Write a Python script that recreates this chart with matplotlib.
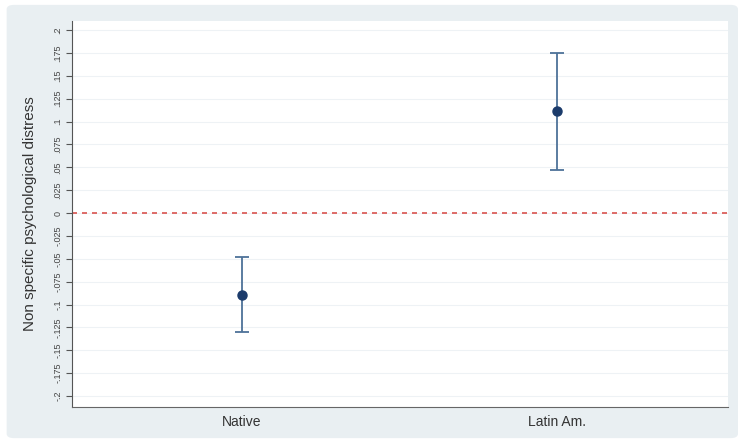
import numpy as np
import matplotlib
matplotlib.use("Agg")
import matplotlib.pyplot as plt
from matplotlib.patches import FancyBboxPatch

plt.rcParams["font.family"] = ["Liberation Sans", "DejaVu Sans"]

groups = ["Native", "Latin Am."]
estimates = [-0.0895, 0.111]
ci_low = [-0.130, 0.047]
ci_high = [-0.048, 0.175]
yticks = np.arange(-0.2, 0.2001, 0.025)
ytick_labels = ["-.2", "-.175", "-.15", "-.125", "-.1", "-.075", "-.05", "-.025", "0",
                ".025", ".05", ".075", ".1", ".125", ".15", ".175", ".2"]

fig = plt.figure(figsize=(7.38, 4.43), dpi=100, facecolor="white")
fig.patches.append(FancyBboxPatch((0.009, 0.011), 0.991, 0.978,
                                  boxstyle="round,pad=0,rounding_size=0.01",
                                  transform=fig.transFigure, facecolor="#e9eff2",
                                  edgecolor="none", zorder=-5))
ax = fig.add_axes([0.0976, 0.081, 0.889, 0.872])
ax.set_zorder(1)
ax.set_facecolor("white")

x = np.arange(1, len(groups) + 1)
est = np.array(estimates)
err = [est - np.array(ci_low), np.array(ci_high) - est]
ax.errorbar(x, est, yerr=err, fmt="none", ecolor="#4d7299", elinewidth=1.3,
            capsize=5, capthick=1.3, zorder=3)
ax.plot(x, est, "o", color="#1b3b6b", ms=6.5, zorder=4)
ax.axhline(0, color="#d9534f", ls=(0, (3, 3)), lw=1.2, zorder=2)

ax.set_xlim(0.46, 2.543)
ax.set_ylim(-0.212, 0.21)
ax.set_xticks(x)
ax.set_xticklabels(groups, fontsize=10, color="#333333")
ax.set_yticks(yticks)
ax.set_yticklabels(ytick_labels, rotation=90, va="center", fontsize=6.5, color="#444444")
ax.tick_params(axis="x", length=0, pad=6)
ax.tick_params(axis="y", length=4, color="#555555", pad=3)
ax.grid(axis="y", color="#eef2f5", lw=0.8)
ax.set_axisbelow(True)
ax.set_ylabel("Non specific psychological distress", fontsize=11, color="#333333", labelpad=12)

for s in ["top", "right"]:
    ax.spines[s].set_visible(False)
ax.spines["left"].set_color("#555555")
ax.spines["bottom"].set_color("#666666")

fig.savefig("out.png", dpi=100, facecolor="white")
